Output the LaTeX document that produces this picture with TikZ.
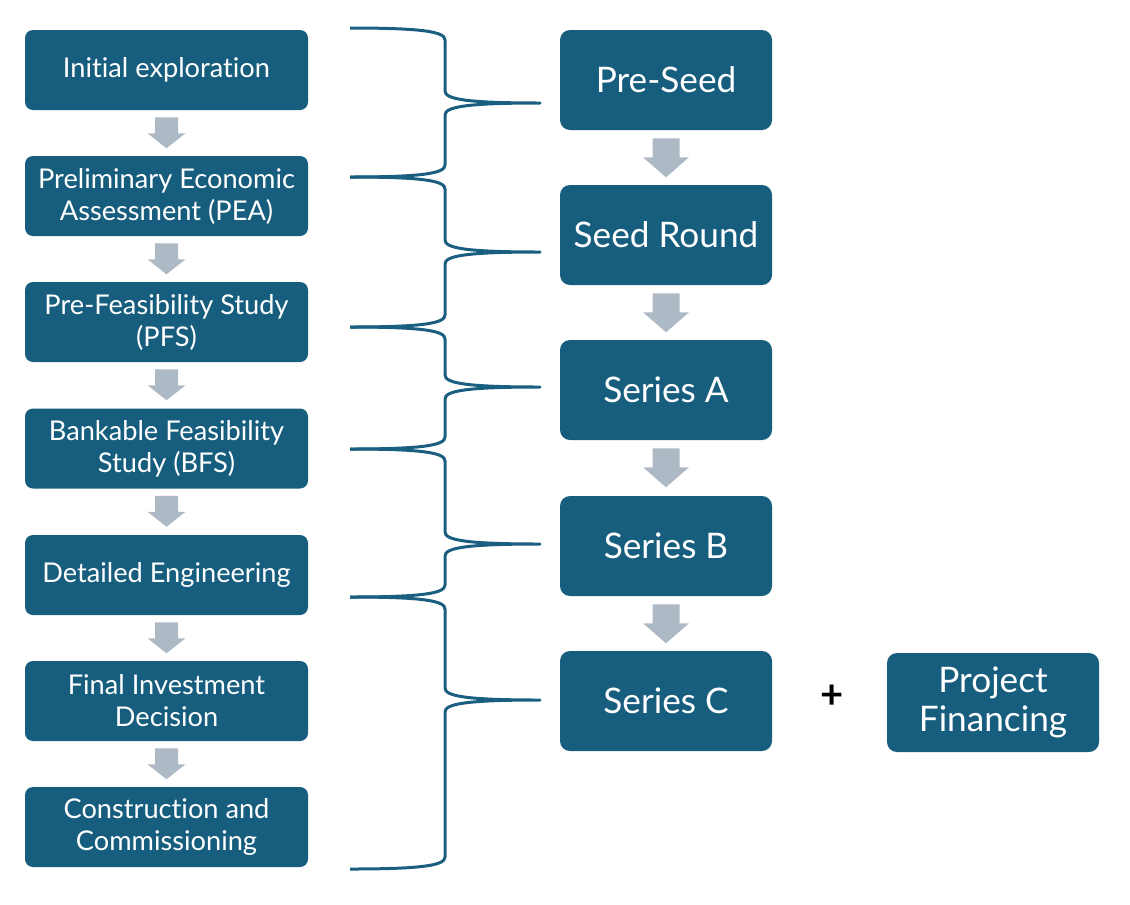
\documentclass[tikz,border=0pt]{standalone}
\usepackage{fontspec}
\setmainfont{Lato}[Ligatures={NoCommon}]
\usetikzlibrary{calc}
\definecolor{boxblue}{RGB}{23,94,126}
\definecolor{arrgray}{RGB}{173,185,197}
\definecolor{bracecol}{RGB}{26,95,128}
\newcommand\bracepiece[3]{(350,#1) .. controls (425,#1) and (445,#1+4) .. (445,#1+12) -- (445,#2-12) .. controls (445,#2-4) and (465,#2) .. (540,#2) .. controls (465,#2) and (445,#2+4) .. (445,#2+12) -- (445,#3-12) .. controls (445,#3-4) and (425,#3) .. (350,#3)}
\newcommand\arrowL[1]{\fill[arrgray] ($(#1.south)+(-11.5,7)$) -- ++(23,0) -- ++(0,16) -- ++(7.5,0) -- ++(-19,15) -- ++(-19,-15) -- ++(7.5,0) -- cycle;}
\newcommand\arrowR[1]{\fill[arrgray] ($(#1.south)+(-13.5,8)$) -- ++(27,0) -- ++(0,19) -- ++(9.5,0) -- ++(-23,20) -- ++(-23,-20) -- ++(9.5,0) -- cycle;}
\begin{document}
\begin{tikzpicture}[x=0.75pt,y=-0.75pt,
  lbox/.style={fill=boxblue, rounded corners=6pt, minimum width=212.25pt, minimum height=60pt, text=white, align=center, inner sep=0pt, font=\fontsize{20.4}{24}\selectfont},
  rbox/.style={fill=boxblue, rounded corners=7.5pt, minimum width=159pt, minimum height=75pt, text=white, align=center, inner sep=0pt, font=\fontsize{26.4}{29}\selectfont},
  bracestyle/.style={draw=bracecol, line width=2.25pt, line join=round}]
\useasboundingbox (0,0) rectangle (1130,904);
\node[lbox] (l1) at (166.5,70) {Initial exploration};
\node[lbox] (l2) at (166.5,196) {Preliminary Economic\\Assessment (PEA)};
\node[lbox] (l3) at (166.5,322) {Pre-Feasibility Study\\(PFS)};
\node[lbox] (l4) at (166.5,448.5) {Bankable Feasibility\\Study (BFS)};
\node[lbox] (l5) at (166.5,575) {Detailed Engineering};
\node[lbox] (l6) at (166.5,701) {Final Investment\\Decision};
\node[lbox] (l7) at (166.5,827) {Construction and\\Commissioning};
\arrowL{l1}\arrowL{l2}\arrowL{l3}\arrowL{l4}\arrowL{l5}\arrowL{l6}
\node[rbox] (r1) at (666,80) {Pre-Seed};
\node[rbox] (r2) at (666,235) {Seed Round};
\node[rbox] (r3) at (666,390) {Series A};
\node[rbox] (r4) at (666,546) {Series B};
\node[rbox] (r5) at (666,701) {Series C};
\arrowR{r1}\arrowR{r2}\arrowR{r3}\arrowR{r4}
\node[rbox, minimum height=74.25pt] (pf) at (993,702.5) {Project\\Financing};
\node[font=\fontsize{30}{30}\selectfont\bfseries] (plus) at (832,697) {+};
\draw[bracestyle] \bracepiece{28}{103}{177};
\draw[bracestyle] \bracepiece{177}{252}{327};
\draw[bracestyle] \bracepiece{327}{387}{449};
\draw[bracestyle] \bracepiece{449}{544}{597};
\draw[bracestyle] \bracepiece{597}{700}{869};
\end{tikzpicture}
\end{document}
